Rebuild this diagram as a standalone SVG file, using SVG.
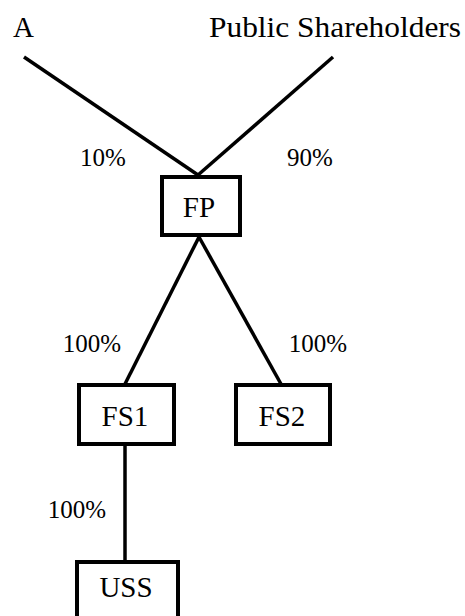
<svg xmlns="http://www.w3.org/2000/svg" width="465" height="616" viewBox="0 0 465 616">
  <defs>
    <style>
      .box { fill: #fff; stroke: #000; stroke-width: 4; }
      .link { stroke: #000; stroke-width: 3.5; fill: none; }
    </style>
  </defs>
  <rect width="465" height="616" fill="#fff"/>

  <!-- ownership lines -->
  <g id="connectors">
    <line class="link" x1="24" y1="57" x2="198" y2="175"/>
    <line class="link" x1="333" y1="57" x2="198" y2="175"/>
    <line class="link" x1="199" y1="237" x2="125" y2="384"/>
    <line class="link" x1="199" y1="237" x2="281" y2="384"/>
    <line class="link" x1="125" y1="446" x2="125" y2="561"/>
  </g>

  <!-- percentage labels -->
  <g id="labels">
    <text x="103" y="166" font-family="Liberation Serif" font-size="25" text-anchor="middle">10%</text>
    <text x="310" y="166" font-family="Liberation Serif" font-size="25" text-anchor="middle">90%</text>
    <text x="92" y="352" font-family="Liberation Serif" font-size="25" text-anchor="middle">100%</text>
    <text x="318" y="352" font-family="Liberation Serif" font-size="25" text-anchor="middle">100%</text>
    <text x="77" y="518" font-family="Liberation Serif" font-size="25" text-anchor="middle">100%</text>
  </g>

  <g id="A">
    <text x="13" y="37" font-family="Liberation Serif" font-size="29">A</text>
  </g>
  <g id="public-shareholders">
    <text x="209" y="37" font-family="Liberation Serif" font-size="29" textLength="252" lengthAdjust="spacingAndGlyphs">Public Shareholders</text>
  </g>

  <g id="FP">
    <rect class="box" x="162" y="177" width="78" height="58"/>
    <text x="199" y="217" font-family="Liberation Serif" font-size="29" text-anchor="middle">FP</text>
  </g>
  <g id="FS1">
    <rect class="box" x="79" y="385" width="95" height="59"/>
    <text x="125" y="426" font-family="Liberation Serif" font-size="29" text-anchor="middle">FS1</text>
  </g>
  <g id="FS2">
    <rect class="box" x="236" y="385" width="94" height="59"/>
    <text x="282" y="426" font-family="Liberation Serif" font-size="29" text-anchor="middle">FS2</text>
  </g>
  <g id="USS">
    <rect class="box" x="77" y="562" width="101" height="70"/>
    <text x="126" y="597" font-family="Liberation Serif" font-size="29" text-anchor="middle">USS</text>
  </g>
</svg>
